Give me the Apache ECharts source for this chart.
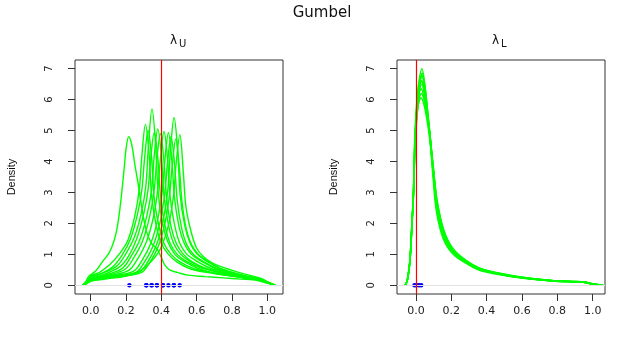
<!DOCTYPE html>
<html>
<head>
<meta charset="utf-8">
<script src="https://cdn.jsdelivr.net/npm/echarts@6/dist/echarts.min.js"></script>
<style>
  html, body { margin: 0; padding: 0; background: #fff; }
  #chart { width: 644px; height: 345px; }
</style>
</head>
<body>
<div id="chart"></div>
<script>
// tick labels
var xTicks = [0, 0.2, 0.4, 0.6, 0.8, 1.0];
var yTicks = [0, 1, 2, 3, 4, 5, 6, 7];

// true values (red lines)
var trueU = 0.4;
var trueL = 0.0;

// point estimates (blue dots)
var estU = [0.219, 0.315, 0.315, 0.345, 0.345, 0.375, 0.375, 0.409, 0.409, 0.44, 0.471, 0.471, 0.504];
var estL = [-0.008, 0.004, 0.018, 0.03];

// posterior densities of lambda_U, one list of [x, density] per replicate
var dU1 = [[-0.047,0],[-0.03,0.1],[-0.01,0.3],[0.028,0.46],[0.065,0.75],[0.104,1.05],[0.13,1.4],[0.151,1.9],[0.17,2.7],[0.19,3.8],[0.2,4.4],[0.215,4.8],[0.232,4.55],[0.25,3.9],[0.268,3.3],[0.287,2.6],[0.315,1.75],[0.345,1.35],[0.372,1.2],[0.396,0.95],[0.42,0.65],[0.447,0.5],[0.5,0.4],[0.55,0.33],[0.65,0.28],[0.75,0.24],[0.85,0.2],[0.93,0.17],[1.0,0.07],[1.045,0]];
var dU2 = [[-0.047,0],[-0.025,0.1],[0,0.3],[0.05,0.42],[0.11,0.68],[0.16,1.0],[0.21,1.45],[0.25,2.25],[0.275,3.1],[0.29,4.2],[0.31,5.2],[0.33,4.3],[0.345,2.9],[0.37,1.95],[0.4,1.35],[0.44,1.0],[0.49,0.75],[0.57,0.52],[0.7,0.38],[0.8,0.3],[0.9,0.21],[0.94,0.19],[1.0,0.08],[1.045,0]];
var dU3 = [[-0.047,0],[-0.025,0.08],[0,0.25],[0.05,0.35],[0.125,0.6],[0.175,0.95],[0.225,1.5],[0.265,2.3],[0.29,3.1],[0.305,4.1],[0.325,5.0],[0.345,4.1],[0.36,2.8],[0.385,1.95],[0.415,1.35],[0.455,1.0],[0.505,0.76],[0.585,0.54],[0.7,0.4],[0.8,0.31],[0.9,0.23],[0.94,0.21],[1.0,0.1],[1.045,0]];
var dU4 = [[-0.047,0],[-0.025,0.1],[0,0.27],[0.05,0.36],[0.147,0.62],[0.197,1.0],[0.247,1.55],[0.287,2.35],[0.312,3.2],[0.327,4.5],[0.347,5.7],[0.367,4.6],[0.382,3.0],[0.407,2.0],[0.437,1.4],[0.477,1.0],[0.527,0.78],[0.607,0.55],[0.7,0.4],[0.8,0.3],[0.9,0.21],[0.94,0.19],[1.0,0.08],[1.045,0]];
var dU5 = [[-0.047,0],[-0.025,0.08],[0,0.22],[0.05,0.3],[0.16,0.58],[0.21,0.9],[0.26,1.5],[0.3,2.3],[0.325,3.1],[0.34,4.1],[0.36,4.95],[0.38,4.1],[0.395,2.9],[0.42,1.95],[0.45,1.35],[0.49,1.0],[0.54,0.78],[0.62,0.57],[0.72,0.43],[0.8,0.33],[0.9,0.25],[0.94,0.21],[1.0,0.1],[1.045,0]];
var dU6 = [[-0.047,0],[-0.025,0.08],[0,0.2],[0.05,0.28],[0.1,0.36],[0.18,0.55],[0.23,0.95],[0.28,1.5],[0.32,2.3],[0.345,3.1],[0.36,4.2],[0.38,5.05],[0.4,4.2],[0.415,2.9],[0.44,1.95],[0.47,1.35],[0.51,1.0],[0.56,0.78],[0.64,0.56],[0.72,0.43],[0.8,0.33],[0.9,0.24],[0.94,0.21],[1.0,0.1],[1.045,0]];
var dU7 = [[-0.047,0],[-0.025,0.07],[0,0.2],[0.05,0.27],[0.1,0.33],[0.195,0.52],[0.245,0.9],[0.295,1.45],[0.335,2.25],[0.36,3.1],[0.375,4.1],[0.395,4.9],[0.415,4.0],[0.43,2.8],[0.455,1.9],[0.485,1.35],[0.525,1.0],[0.575,0.76],[0.655,0.54],[0.75,0.4],[0.85,0.29],[0.92,0.22],[0.95,0.19],[1.0,0.1],[1.045,0]];
var dU8 = [[-0.047,0],[-0.025,0.07],[0,0.18],[0.05,0.25],[0.1,0.3],[0.215,0.48],[0.265,0.85],[0.315,1.4],[0.355,2.2],[0.38,3.1],[0.395,4.1],[0.415,4.97],[0.435,4.1],[0.45,2.85],[0.475,1.95],[0.505,1.35],[0.545,1.0],[0.595,0.8],[0.675,0.56],[0.75,0.43],[0.85,0.31],[0.92,0.25],[0.95,0.2],[1.0,0.1],[1.045,0]];
var dU9 = [[-0.047,0],[-0.025,0.06],[0,0.17],[0.05,0.23],[0.1,0.28],[0.24,0.45],[0.29,0.8],[0.34,1.35],[0.38,2.15],[0.405,3.05],[0.42,4.05],[0.44,4.93],[0.46,4.0],[0.475,2.8],[0.5,1.9],[0.53,1.35],[0.57,1.0],[0.62,0.8],[0.7,0.56],[0.8,0.39],[0.88,0.29],[0.93,0.24],[0.96,0.19],[1.0,0.1],[1.045,0]];
var dU10 = [[-0.047,0],[-0.025,0.06],[0,0.16],[0.05,0.22],[0.1,0.27],[0.255,0.42],[0.305,0.76],[0.355,1.3],[0.395,2.1],[0.42,3.0],[0.435,3.95],[0.455,4.8],[0.475,3.9],[0.49,2.75],[0.515,1.85],[0.545,1.3],[0.585,0.98],[0.635,0.78],[0.715,0.54],[0.8,0.4],[0.88,0.29],[0.93,0.24],[0.96,0.19],[1.0,0.1],[1.045,0]];
var dU11 = [[-0.047,0],[-0.025,0.06],[0,0.15],[0.05,0.21],[0.1,0.25],[0.272,0.42],[0.322,0.75],[0.372,1.3],[0.412,2.15],[0.437,3.1],[0.452,4.4],[0.472,5.42],[0.492,4.4],[0.507,2.9],[0.532,1.95],[0.562,1.38],[0.602,1.02],[0.652,0.8],[0.732,0.55],[0.82,0.37],[0.9,0.27],[0.94,0.24],[0.97,0.18],[1.01,0.08],[1.045,0]];
var dU12 = [[-0.047,0],[-0.025,0.05],[0,0.14],[0.05,0.2],[0.1,0.24],[0.282,0.4],[0.332,0.72],[0.382,1.25],[0.422,2.05],[0.447,2.95],[0.462,3.9],[0.482,4.73],[0.502,3.8],[0.517,2.7],[0.542,1.8],[0.572,1.3],[0.612,0.98],[0.662,0.78],[0.742,0.53],[0.82,0.39],[0.9,0.27],[0.94,0.23],[0.97,0.18],[1.01,0.08],[1.045,0]];
var dU13 = [[-0.047,0],[-0.025,0.05],[0,0.13],[0.05,0.18],[0.1,0.22],[0.2,0.3],[0.293,0.52],[0.368,0.94],[0.405,1.3],[0.445,2.05],[0.47,2.95],[0.485,4.0],[0.505,4.87],[0.525,3.6],[0.54,2.5],[0.57,1.7],[0.6,1.2],[0.636,0.94],[0.68,0.75],[0.73,0.62],[0.843,0.41],[0.93,0.28],[0.975,0.2],[1.01,0.08],[1.045,0]];

// posterior densities of lambda_L
var dL1 = [[-0.062,0],[-0.053,0.1],[-0.045,0.3],[-0.034,0.84],[-0.025,1.8],[-0.015,2.98],[-0.006,4.9],[0.007,6.1],[0.02,6.7],[0.034,7.0],[0.05,6.5],[0.065,5.7],[0.079,4.8],[0.098,3.4],[0.117,2.35],[0.155,1.5],[0.211,1.0],[0.287,0.7],[0.353,0.5],[0.437,0.38],[0.589,0.24],[0.777,0.14],[0.947,0.1],[1.0,0.04],[1.06,0]];
var dL2 = [[-0.06,0],[-0.05,0.12],[-0.042,0.35],[-0.032,0.9],[-0.022,1.9],[-0.012,3.1],[-0.003,4.9],[0.01,6.0],[0.022,6.6],[0.036,6.85],[0.052,6.4],[0.067,5.6],[0.082,4.75],[0.1,3.5],[0.12,2.4],[0.158,1.55],[0.215,1.03],[0.29,0.72],[0.36,0.51],[0.44,0.4],[0.59,0.25],[0.78,0.15],[0.95,0.1],[1.0,0.05],[1.06,0]];
var dL3 = [[-0.062,0],[-0.052,0.1],[-0.044,0.3],[-0.033,0.85],[-0.024,1.8],[-0.014,3.0],[-0.005,4.8],[0.008,5.9],[0.02,6.4],[0.032,6.6],[0.048,6.25],[0.064,5.6],[0.08,4.85],[0.1,3.7],[0.12,2.65],[0.158,1.72],[0.213,1.12],[0.29,0.76],[0.355,0.55],[0.44,0.42],[0.59,0.26],[0.78,0.15],[0.95,0.1],[1.0,0.04],[1.06,0]];
var dL4 = [[-0.061,0],[-0.051,0.11],[-0.043,0.32],[-0.032,0.88],[-0.023,1.85],[-0.013,3.0],[-0.004,4.7],[0.009,5.8],[0.021,6.3],[0.033,6.5],[0.05,6.1],[0.066,5.5],[0.083,4.6],[0.102,3.5],[0.122,2.5],[0.16,1.65],[0.217,1.1],[0.292,0.76],[0.36,0.55],[0.445,0.42],[0.6,0.26],[0.78,0.15],[0.95,0.11],[1.0,0.05],[1.06,0]];
var dL5 = [[-0.062,0],[-0.053,0.1],[-0.045,0.3],[-0.034,0.82],[-0.025,1.75],[-0.015,2.9],[-0.006,4.6],[0.007,5.7],[0.019,6.2],[0.03,6.35],[0.046,6.05],[0.063,5.5],[0.08,4.8],[0.099,3.7],[0.119,2.7],[0.157,1.75],[0.212,1.15],[0.288,0.78],[0.355,0.56],[0.44,0.42],[0.59,0.26],[0.78,0.14],[0.95,0.1],[1.0,0.04],[1.06,0]];
var dL6 = [[-0.061,0],[-0.052,0.1],[-0.044,0.31],[-0.033,0.86],[-0.024,1.8],[-0.014,2.9],[-0.005,4.5],[0.008,5.6],[0.02,6.05],[0.031,6.2],[0.048,5.95],[0.065,5.4],[0.082,4.7],[0.101,3.7],[0.121,2.7],[0.16,1.75],[0.215,1.15],[0.29,0.78],[0.358,0.56],[0.44,0.43],[0.595,0.27],[0.78,0.15],[0.95,0.11],[1.0,0.05],[1.06,0]];
var dL7 = [[-0.062,0],[-0.053,0.1],[-0.045,0.29],[-0.034,0.8],[-0.025,1.7],[-0.015,2.8],[-0.006,4.4],[0.007,5.5],[0.018,5.95],[0.029,6.05],[0.045,5.85],[0.062,5.35],[0.079,4.7],[0.098,3.8],[0.118,2.8],[0.156,1.8],[0.21,1.15],[0.286,0.78],[0.352,0.55],[0.437,0.42],[0.59,0.25],[0.777,0.14],[0.947,0.1],[1.0,0.04],[1.06,0]];
var dL8 = [[-0.06,0],[-0.051,0.11],[-0.043,0.33],[-0.032,0.9],[-0.023,1.85],[-0.013,3.0],[-0.004,4.7],[0.009,5.9],[0.022,6.5],[0.035,6.75],[0.051,6.3],[0.066,5.5],[0.081,4.6],[0.1,3.45],[0.119,2.4],[0.157,1.55],[0.214,1.03],[0.29,0.71],[0.357,0.52],[0.44,0.4],[0.59,0.25],[0.78,0.15],[0.95,0.1],[1.0,0.05],[1.06,0]];
var dL9 = [[-0.062,0],[-0.052,0.1],[-0.044,0.3],[-0.033,0.83],[-0.024,1.78],[-0.014,2.95],[-0.005,4.75],[0.008,5.95],[0.021,6.45],[0.033,6.6],[0.05,6.25],[0.066,5.6],[0.082,4.75],[0.101,3.55],[0.121,2.5],[0.159,1.62],[0.214,1.08],[0.29,0.75],[0.356,0.54],[0.442,0.41],[0.595,0.25],[0.78,0.14],[0.95,0.1],[1.0,0.04],[1.06,0]];
var dL10 = [[-0.061,0],[-0.052,0.1],[-0.044,0.31],[-0.033,0.86],[-0.024,1.82],[-0.014,3.0],[-0.005,4.8],[0.008,6.0],[0.021,6.55],[0.034,6.8],[0.05,6.35],[0.066,5.55],[0.081,4.65],[0.1,3.5],[0.12,2.45],[0.158,1.58],[0.213,1.05],[0.29,0.72],[0.356,0.52],[0.44,0.4],[0.59,0.25],[0.78,0.14],[0.95,0.1],[1.0,0.04],[1.06,0]];

var densU = [dU1, dU2, dU3, dU4, dU5, dU6, dU7, dU8, dU9, dU10, dU11, dU12, dU13];
var densL = [dL1, dL2, dL3, dL4, dL5, dL6, dL7, dL8, dL9, dL10];

var labelFont = 'DejaVu Sans';
var series = [];

function curve(data, idx) {
  return {
    type: 'line',
    xAxisIndex: idx,
    yAxisIndex: idx,
    data: data,
    showSymbol: false,
    symbol: 'none',
    smooth: 0.35,
    lineStyle: { color: '#00ff00', width: 1.4 },
    silent: true
  };
}

densU.forEach(function (d) { series.push(curve(d, 0)); });
densL.forEach(function (d) { series.push(curve(d, 1)); });

function dots(vals, idx) {
  return {
    type: 'scatter',
    xAxisIndex: idx,
    yAxisIndex: idx,
    data: vals.map(function (v) { return [v, 0]; }),
    symbol: 'circle',
    symbolSize: 4.5,
    itemStyle: { color: '#0000ff', opacity: 1 },
    silent: true,
    markLine: {
      silent: true,
      symbol: ['none', 'none'],
      label: { show: false },
      lineStyle: { color: '#e2e2e2', width: 1, type: 'solid' },
      data: [{ yAxis: 0 }]
    }
  };
}
series.push(dots(estU, 0));
series.push(dots(estL, 1));

function trueLine(v, idx) {
  return {
    type: 'line',
    xAxisIndex: idx,
    yAxisIndex: idx,
    data: [],
    markLine: {
      silent: true,
      symbol: ['none', 'none'],
      label: { show: false },
      lineStyle: { color: '#ff0000', width: 1.2, type: 'solid' },
      data: [{ xAxis: v }]
    }
  };
}
series.push(trueLine(trueU, 0));
series.push(trueLine(trueL, 1));

function xAxisOf(idx, min, max) {
  return {
    type: 'value',
    gridIndex: idx,
    min: min,
    max: max,
    axisLine: { show: false, onZero: false },
    splitLine: { show: false },
    axisTick: { show: true, customValues: xTicks, length: 7, lineStyle: { color: '#333' } },
    axisLabel: {
      customValues: xTicks,
      margin: 12,
      color: '#222',
      fontFamily: labelFont,
      fontSize: 11,
      formatter: function (v) { return v.toFixed(1); }
    }
  };
}

function yAxisOf(idx) {
  return {
    type: 'value',
    gridIndex: idx,
    min: -0.28,
    max: 7.28,
    name: 'Density',
    nameLocation: 'middle',
    nameRotate: 90,
    nameGap: 58,
    nameTextStyle: { fontFamily: "'Liberation Sans Narrow', 'Liberation Sans'", fontSize: 11, color: '#111' },
    axisLine: { show: false, onZero: false },
    splitLine: { show: false },
    axisTick: { show: true, customValues: yTicks, length: 7, lineStyle: { color: '#333' } },
    axisLabel: {
      customValues: yTicks,
      rotate: 90,
      margin: 21,
      color: '#222',
      fontFamily: labelFont,
      fontSize: 10
    }
  };
}

var chart = echarts.init(document.getElementById('chart'));
chart.setOption({
  animation: false,
  backgroundColor: '#fff',
  title: [
    { text: 'Gumbel', left: 'center', top: 6, padding: 0,
      textStyle: { fontFamily: labelFont, fontSize: 15, fontWeight: 'normal', color: '#111' } },
    { text: 'λ', left: 170, top: 35, padding: 0,
      textStyle: { fontFamily: labelFont, fontSize: 12, fontWeight: 'normal', color: '#111' } },
    { text: 'U', left: 179, top: 39, padding: 0,
      textStyle: { fontFamily: labelFont, fontSize: 10, fontWeight: 'normal', color: '#111' } },
    { text: 'λ', left: 492, top: 35, padding: 0,
      textStyle: { fontFamily: labelFont, fontSize: 12, fontWeight: 'normal', color: '#111' } },
    { text: 'L', left: 501, top: 39, padding: 0,
      textStyle: { fontFamily: labelFont, fontSize: 10, fontWeight: 'normal', color: '#111' } }
  ],
  grid: [
    { left: 75, top: 60, width: 208, height: 234, show: true, borderColor: '#333', borderWidth: 1, backgroundColor: 'transparent' },
    { left: 397, top: 60, width: 208, height: 234, show: true, borderColor: '#333', borderWidth: 1, backgroundColor: 'transparent' }
  ],
  xAxis: [xAxisOf(0, -0.089, 1.089), xAxisOf(1, -0.107, 1.07)],
  yAxis: [yAxisOf(0), yAxisOf(1)],
  series: series
});
</script>
</body>
</html>
